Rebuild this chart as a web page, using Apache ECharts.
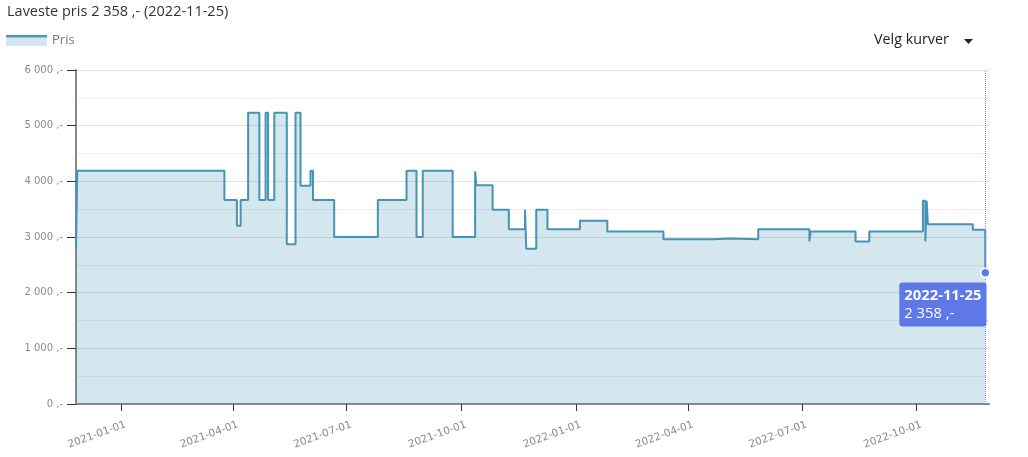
<!DOCTYPE html>
<html>
<head>
<meta charset="utf-8">
<script src="https://cdn.jsdelivr.net/npm/echarts@6/dist/echarts.min.js"></script>
<style>
html,body{margin:0;padding:0;background:#fff;}
#chart{width:1028px;height:457px;}
</style>
</head>
<body>
<div id="chart"></div>
<script>
// ---- data ----
const seriesName = 'Pris';
const dates = [
  '2020-11-26','2020-11-27','2021-03-25','2021-04-04','2021-04-07','2021-04-13',
  '2021-04-22','2021-04-27','2021-04-29','2021-05-04','2021-05-14','2021-05-21',
  '2021-05-25','2021-06-02','2021-06-04','2021-06-21','2021-07-26','2021-08-18',
  '2021-08-26','2021-08-31','2021-09-24','2021-10-12','2021-10-13','2021-10-26',
  '2021-11-08','2021-11-21','2021-11-22','2021-11-30','2021-12-09','2022-01-04',
  '2022-01-26','2022-03-12','2022-04-21','2022-05-05','2022-05-27','2022-07-07',
  '2022-07-08','2022-08-13','2022-08-24','2022-10-06','2022-10-08','2022-10-09',
  '2022-10-10','2022-11-15','2022-11-25'
];
const prices = [
  2770,4190,3665,3200,3665,5230,
  3665,5230,3665,5230,2870,5230,
  3920,4190,3665,3000,3665,4190,
  3000,4190,3000,4180,3930,3490,
  3140,3490,2790,3490,3140,3290,
  3100,2960,2975,2960,3140,2920,
  3100,2920,3100,3650,2920,3650,
  3230,3130,2358
];
const xTickLabels = ['2021-01-01','2021-04-01','2021-07-01','2021-10-01','2022-01-01','2022-04-01','2022-07-01','2022-10-01'];
const xMinDate = '2020-11-26';
const xMaxDate = '2022-11-28';
const yMax = 6000;
const yInterval = 1000;
const titlePrefix = 'Laveste pris';
const menuLabel = 'Velg kurver';

// ---- helpers ----
function ts(s){ const p = s.split('-').map(Number); return new Date(p[0], p[1]-1, p[2]).getTime(); }
function pad(n){ return (n < 10 ? '0' : '') + n; }
function fmtDate(v){ const d = new Date(v); return d.getFullYear() + '-' + pad(d.getMonth()+1) + '-' + pad(d.getDate()); }
function fmtPrice(v){ return String(Math.round(v)).replace(/\B(?=(\d{3})+(?!\d))/g, ' ') + ' ,-'; }

const lineData = dates.map((d, i) => [ts(d), prices[i]]);
let minIdx = 0;
prices.forEach((p, i) => { if (p <= prices[minIdx]) minIdx = i; });
const minPrice = prices[minIdx];
const minDate = dates[minIdx];
const lastPoint = lineData[lineData.length - 1];
const xTickValues = xTickLabels.map(ts);

const legendIcon = 'image://data:image/svg+xml;charset=utf-8,' + encodeURIComponent(
  "<svg xmlns='http://www.w3.org/2000/svg' width='41' height='11'><rect width='41' height='11' fill='#d3e5ee'/><rect width='41' height='2.4' fill='#4a94b6'/></svg>");

const uiFont = 'Open Sans';

const chart = echarts.init(document.getElementById('chart'));
chart.setOption({
  animation: false,
  backgroundColor: '#fff',
  title: {
    text: titlePrefix + ' ' + fmtPrice(minPrice) + ' (' + minDate + ')',
    left: 7, top: 4, padding: 0,
    textStyle: { fontFamily: uiFont, fontSize: 14.5, fontWeight: 'normal', color: '#333' }
  },
  legend: {
    data: [seriesName],
    left: 1, top: 29,
    icon: legendIcon,
    itemWidth: 41, itemHeight: 11,
    textStyle: { fontFamily: uiFont, fontSize: 13, color: '#777' },
    selectedMode: false
  },
  graphic: [
    { type: 'text', left: 874, top: 33, style: { text: menuLabel, fontFamily: uiFont, fontSize: 14.3, fill: '#222' } },
    { type: 'polygon', shape: { points: [[964, 39], [973, 39], [968.5, 44]] }, style: { fill: '#222' } }
  ],
  grid: { left: 76, right: 39, top: 70, bottom: 53, containLabel: false },
  xAxis: {
    type: 'value',
    min: ts(xMinDate), max: ts(xMaxDate),
    axisLine: { show: true, onZero: false, lineStyle: { color: '#888', width: 2 } },
    axisTick: { show: true, customValues: xTickValues, length: 7, lineStyle: { color: '#333' } },
    axisLabel: {
      customValues: xTickValues,
      rotate: 20, margin: 22,
      padding: [0, -5, 0, 0],
      color: '#8a8a8a', fontFamily: 'DejaVu Sans', fontSize: 10.5,
      formatter: v => fmtDate(v)
    },
    splitLine: { show: false }
  },
  yAxis: {
    type: 'value',
    min: 0, max: yMax, interval: yInterval,
    axisLine: { show: true, lineStyle: { color: '#888', width: 2 } },
    axisTick: { show: true, length: 9, lineStyle: { color: '#333' } },
    minorTick: { show: false, splitNumber: 2 },
    minorSplitLine: { show: true, lineStyle: { color: '#ececec', width: 1 } },
    splitLine: { show: true, lineStyle: { color: '#e2e2e2', width: 1 } },
    axisLabel: {
      margin: 13, color: '#8a8a8a', fontFamily: 'DejaVu Sans', fontSize: 10,
      formatter: v => fmtPrice(v)
    }
  },
  series: [
    {
      name: seriesName,
      type: 'line',
      step: 'end',
      data: lineData,
      showSymbol: false,
      lineStyle: { color: '#4593b5', width: 2 },
      itemStyle: { color: '#4593b5' },
      areaStyle: { color: 'rgba(69,147,181,0.32)' },
      z: 2
    },
    {
      name: 'marker',
      type: 'scatter',
      data: [lastPoint],
      symbolSize: 9,
      itemStyle: { color: '#5f78e8', borderColor: '#fff', borderWidth: 1.5, opacity: 1 },
      z: 5,
      label: {
        show: true,
        position: [6.5, 15],
        align: 'right', verticalAlign: 'top',
        backgroundColor: '#5f78e8',
        borderRadius: 3,
        padding: [4, 5, 4, 5],
        formatter: p => '{a|' + fmtDate(p.value[0]) + '}\n{b|' + fmtPrice(p.value[1]) + '}',
        rich: {
          a: { fontFamily: uiFont, fontWeight: 'bold', fontSize: 14.8, color: '#fff', lineHeight: 18, align: 'left' },
          b: { fontFamily: uiFont, fontSize: 14.8, color: '#fff', lineHeight: 18, align: 'left' }
        }
      },
      markLine: {
        silent: true, symbol: 'none',
        label: { show: false },
        lineStyle: { type: 'dotted', color: '#7d8ff0', width: 1, opacity: 1 },
        data: [{ xAxis: lastPoint[0] }]
      }
    }
  ]
});
</script>
</body>
</html>
